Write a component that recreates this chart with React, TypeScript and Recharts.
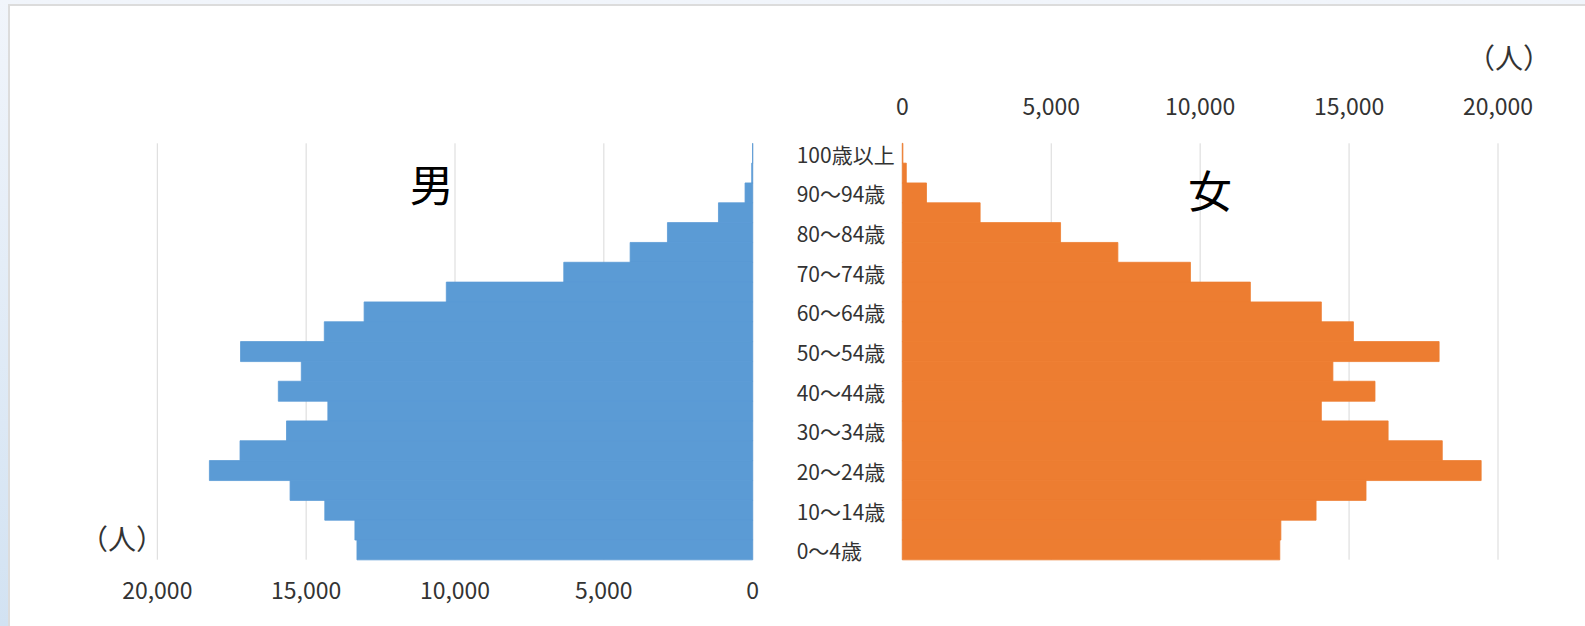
import { BarChart, Bar, XAxis, YAxis, CartesianGrid } from "recharts";

const ageGroups = [
  "100歳以上",
  "95～99歳",
  "90～94歳",
  "85～89歳",
  "80～84歳",
  "75～79歳",
  "70～74歳",
  "65～69歳",
  "60～64歳",
  "55～59歳",
  "50～54歳",
  "45～49歳",
  "40～44歳",
  "35～39歳",
  "30～34歳",
  "25～29歳",
  "20～24歳",
  "15～19歳",
  "10～14歳",
  "5～9歳",
  "0～4歳",
];

const maleValues = [
  3, 34, 257, 1150, 2864, 4117, 6346, 10292, 13053, 14390, 17204, 15163, 15935,
  14271, 15660, 17221, 18250, 15540, 14374, 13362, 13293,
];

const femaleValues = [
  20, 135, 812, 2613, 5313, 7238, 9674, 11686, 14069, 15146, 18023, 14457,
  15870, 14069, 16311, 18129, 19435, 15569, 13892, 12710, 12674,
];

const xTicks = [0, 5000, 10000, 15000, 20000];

const fmt = (v: number) => v.toLocaleString("en-US");

const font = "'Noto Sans CJK JP', 'Noto Sans', sans-serif";
const gridColor = "#d9d9d9";
const textColor = "#333333";
const maleColor = "#5b9bd5";
const femaleColor = "#ed7d31";

// age labels between the two halves, left aligned like the original
const AGE_LABEL_WIDTH = 105.6;

function AgeTick(props: any) {
  const { x, y, payload } = props;
  return (
    <text
      x={x - AGE_LABEL_WIDTH}
      y={y + 0.5}
      textAnchor="start"
      dominantBaseline="central"
      fontSize={21}
      fill={textColor}
    >
      {payload.value}
    </text>
  );
}

export default function App() {
  const data = ageGroups.map((age, i) => ({
    age,
    male: maleValues[i],
    female: femaleValues[i],
  }));

  return (
    <div
      style={{
        position: "fixed",
        left: 0,
        top: 0,
        width: 1585,
        height: 626,
        overflow: "hidden",
        fontFamily: font,
        background: "linear-gradient(to bottom, #f1f5fb, #d2e2f2)",
      }}
    >
      {/* chart area frame */}
      <div
        style={{
          position: "absolute",
          left: 8,
          top: 4,
          width: 1600,
          height: 640,
          background: "#ffffff",
          borderLeft: "2px solid #dcdcdc",
          borderTop: "2px solid #dcdcdc",
        }}
      />

      {/* male side */}
      <div style={{ position: "absolute", left: 0, top: 0 }}>
        <BarChart
          layout="vertical"
          width={760}
          height={626}
          data={data}
          margin={{ top: 143.3, right: 7.3, bottom: 36.3, left: 157.3 }}
          barCategoryGap={0}
        >
          <CartesianGrid horizontal={false} stroke={gridColor} />
          <XAxis
            type="number"
            domain={[0, 20000]}
            ticks={xTicks}
            interval={0}
            reversed
            height={30}
            axisLine={false}
            tickLine={false}
            tickSize={0}
            tickMargin={23}
            tickFormatter={fmt}
            tick={{ fontSize: 23, fill: textColor }}
          />
          <YAxis type="category" dataKey="age" hide />
          <Bar
            dataKey="male"
            fill={maleColor}
            stroke={maleColor}
            strokeWidth={0.8}
            isAnimationActive={false}
          />
        </BarChart>
      </div>

      {/* female side */}
      <div style={{ position: "absolute", left: 760, top: 0 }}>
        <BarChart
          layout="vertical"
          width={825}
          height={626}
          data={data}
          margin={{ top: 113.3, right: 87, bottom: 66.3, left: 12.3 }}
          barCategoryGap={0}
        >
          <CartesianGrid horizontal={false} stroke={gridColor} />
          <XAxis
            type="number"
            orientation="top"
            domain={[0, 20000]}
            ticks={xTicks}
            interval={0}
            height={30}
            axisLine={false}
            tickLine={false}
            tickSize={0}
            tickMargin={28}
            tickFormatter={fmt}
            tick={{ fontSize: 23, fill: textColor }}
          />
          <YAxis
            type="category"
            dataKey="age"
            width={130}
            interval={1}
            axisLine={false}
            tickLine={false}
            tickSize={0}
            tickMargin={0}
            tick={<AgeTick />}
          />
          <Bar
            dataKey="female"
            fill={femaleColor}
            stroke={femaleColor}
            strokeWidth={0.8}
            isAnimationActive={false}
          />
        </BarChart>
      </div>

      {/* labels */}
      <svg
        width={1585}
        height={626}
        style={{ position: "absolute", left: 0, top: 0, pointerEvents: "none" }}
      >
        <text x={431.7} y={183.3} fontSize={44} textAnchor="middle" dominantBaseline="central" fill="#000">
          男
        </text>
        <text x={1210} y={189} fontSize={44} textAnchor="middle" dominantBaseline="central" fill="#000">
          女
        </text>
        <text x={122} y={538} fontSize={28} textAnchor="middle" dominantBaseline="central" fill={textColor}>
          （人）
        </text>
        <text x={1509} y={56.7} fontSize={28} textAnchor="middle" dominantBaseline="central" fill={textColor}>
          （人）
        </text>
      </svg>
    </div>
  );
}
